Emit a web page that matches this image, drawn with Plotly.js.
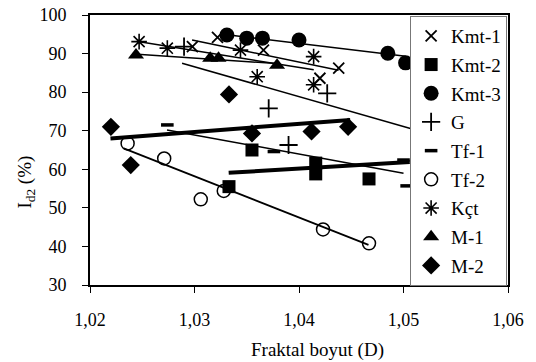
<!DOCTYPE html>
<html>
<head>
<meta charset="utf-8">
<script src="https://cdn.plot.ly/plotly-3.0.1.min.js"></script>
<style>html,body{margin:0;padding:0;background:#fff;}#chart{width:536px;height:362px;}</style>
</head>
<body>
<div id="chart"></div>
<script>
// ---- data ----
var seriesNames = ["Kmt-1", "Kmt-2", "Kmt-3", "G", "Tf-1", "Tf-2", "Kçt", "M-1", "M-2"];

var kmt1X = [1.0298, 1.0322, 1.0366, 1.0420, 1.0438];
var kmt1Y = [91.8, 94.2, 90.9, 83.6, 86.2];
var kmt2X = [1.0333, 1.0355, 1.0416, 1.0416, 1.0467];
var kmt2Y = [55.5, 65.0, 61.6, 58.8, 57.5];
var kmt3X = [1.0331, 1.0350, 1.0365, 1.0400, 1.0485, 1.0502];
var kmt3Y = [94.8, 94.0, 94.0, 93.5, 90.1, 87.6];
var gX = [1.0290, 1.0371, 1.0390, 1.0427];
var gY = [91.8, 75.8, 66.3, 79.7];
var tf1X = [1.0274, 1.0376, 1.0500, 1.0503];
var tf1Y = [71.5, 64.6, 62.4, 55.7];
var tf2X = [1.0236, 1.0271, 1.0306, 1.0328, 1.0423, 1.0467];
var tf2Y = [66.7, 62.8, 52.2, 54.4, 44.4, 40.8];
var kctX = [1.0247, 1.0274, 1.0344, 1.0360, 1.0414, 1.0414];
var kctY = [93.1, 91.4, 90.9, 84.0, 89.2, 81.9];
var m1X = [1.0244, 1.0315, 1.0323, 1.0379];
var m1Y = [89.6, 88.8, 88.8, 87.0];
var m2X = [1.0220, 1.0239, 1.0333, 1.0355, 1.0412, 1.0447];
var m2Y = [71.0, 61.1, 79.4, 69.3, 69.8, 71.0];

// linear trend lines (end points)
var kmt1TrendX = [1.02977, 1.04379], kmt1TrendY = [93.5, 85.7];
var kmt2TrendX = [1.03327, 1.0506],  kmt2TrendY = [59.1, 61.9];
var kmt3TrendX = [1.0331, 1.0502],   kmt3TrendY = [94.9, 89.3];
var gTrendX    = [1.02881, 1.0510],  gTrendY    = [87.5, 70.3];
var tf1TrendX  = [1.02737, 1.0500],  tf1TrendY  = [70.2, 59.0];
var tf2TrendX  = [1.02323, 1.04665], tf2TrendY  = [65.4, 40.4];
var kctTrendX  = [1.02473, 1.04141], kctTrendY  = [93.05, 85.8];
var m1TrendX   = [1.02419, 1.0379],  m1TrendY   = [89.9, 87.4];
var m2TrendX   = [1.02196, 1.0449],  m2TrendY   = [68.0, 72.8];

var xTicks = [1.02, 1.03, 1.04, 1.05, 1.06];
var yTicks = [30, 40, 50, 60, 70, 80, 90, 100];

// ---- styles ----
var FONT = "Liberation Serif, Times New Roman, serif";
var pts = [
  {x: kmt1X, y: kmt1Y, sym: "x-thin-open", size: 11, lw: 1.8},
  {x: kmt2X, y: kmt2Y, sym: "square", size: 13, lw: 0},
  {x: kmt3X, y: kmt3Y, sym: "circle", size: 15, lw: 0},
  {x: gX, y: gY, sym: "cross-thin-open", size: 13, lw: 1.8},
  {x: tf1X, y: tf1Y, sym: "line-ew-open", size: 9, lw: 3.5},
  {x: tf2X, y: tf2Y, sym: "circle-open", size: 13, lw: 1.5},
  {x: kctX, y: kctY, sym: "asterisk-open", size: 13, lw: 1.6},
  {x: m1X, y: m1Y, sym: "triangle-up", size: 14, lw: 0},
  {x: m2X, y: m2Y, sym: "diamond", size: 14, lw: 0}
];
var trends = [
  {x: kmt1TrendX, y: kmt1TrendY, w: 1.5},
  {x: kmt2TrendX, y: kmt2TrendY, w: 4},
  {x: kmt3TrendX, y: kmt3TrendY, w: 1.5},
  {x: gTrendX, y: gTrendY, w: 1.5},
  {x: tf1TrendX, y: tf1TrendY, w: 1.5},
  {x: tf2TrendX, y: tf2TrendY, w: 1.8},
  {x: kctTrendX, y: kctTrendY, w: 1.5},
  {x: m1TrendX, y: m1TrendY, w: 1.5},
  {x: m2TrendX, y: m2TrendY, w: 4}
];

var traces = [];
pts.forEach(function (p, i) {
  traces.push({
    type: "scatter", mode: "markers", name: seriesNames[i],
    legendgroup: "g" + i,
    x: p.x, y: p.y,
    marker: {symbol: p.sym, size: p.size, color: "#000",
             line: {color: "#000", width: p.lw}}
  });
});
trends.forEach(function (t, i) {
  traces.push({
    type: "scatter", mode: "lines", showlegend: false,
    legendgroup: "g" + i,
    x: t.x, y: t.y, line: {color: "#000", width: t.w}
  });
});

var L = 89.5, R = 508, T = 15, B = 285;
var pw = R - L, ph = B - T;

var layout = {
  width: 536, height: 362,
  margin: {l: L, r: 536 - R, t: T, b: 362 - B, pad: 0},
  paper_bgcolor: "#fff", plot_bgcolor: "#fff",
  separators: ", ",
  font: {family: FONT, size: 18, color: "#000"},
  showlegend: true,
  xaxis: {
    range: [1.02, 1.06], tickvals: xTicks, tickformat: ".2f",
    showgrid: false, zeroline: false,
    showline: true, linecolor: "#000", linewidth: 2, mirror: true,
    ticks: "outside", ticklen: 6, tickwidth: 1, tickcolor: "#000",
    ticklabelstandoff: 11,
    tickfont: {family: FONT, size: 18, color: "#000"}
  },
  yaxis: {
    range: [30, 100], tickvals: yTicks,
    showgrid: false, zeroline: false,
    showline: true, linecolor: "#000", linewidth: 2, mirror: true,
    ticks: "outside", ticklen: 6, tickwidth: 1, tickcolor: "#000",
    ticklabelstandoff: 12,
    tickfont: {family: FONT, size: 18, color: "#000"}
  },
  legend: {
    x: (410 - L) / pw, y: (B - 16) / ph, xanchor: "left", yanchor: "top",
    bgcolor: "#fff", bordercolor: "#777", borderwidth: 1,
    font: {family: FONT, size: 19, color: "#000"},
    traceorder: "grouped", tracegroupgap: 1,
    itemwidth: 30
  },
  annotations: [
    {xref: "paper", yref: "paper", x: (317 - L) / pw, y: (B - 350) / ph,
     xanchor: "center", yanchor: "middle", showarrow: false,
     text: "Fraktal boyut (D)", font: {family: FONT, size: 19, color: "#000"}},
    {xref: "paper", yref: "paper", x: (25 - L) / pw, y: (B - 182) / ph,
     xanchor: "center", yanchor: "middle", showarrow: false, textangle: -90,
     text: "I<sub>d2</sub> (%)", font: {family: FONT, size: 19, color: "#000"}}
  ]
};

Plotly.newPlot("chart", traces, layout, {displayModeBar: false, staticPlot: true});
</script>
</body>
</html>
